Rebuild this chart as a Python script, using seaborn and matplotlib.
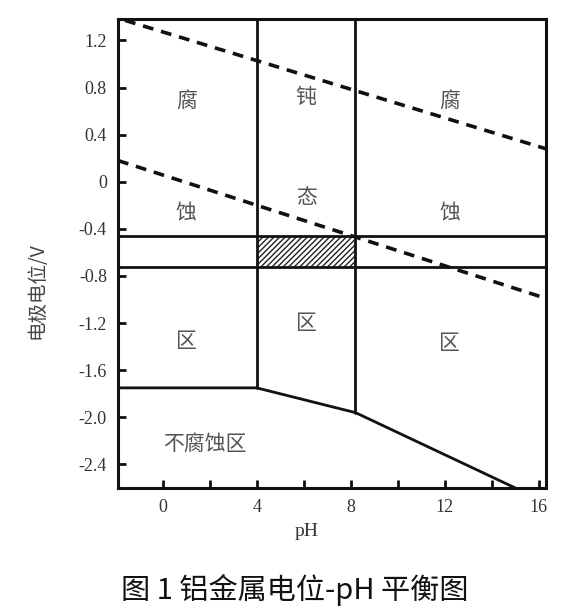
import numpy as np
import pandas as pd
import matplotlib
matplotlib.use("Agg")
import matplotlib.pyplot as plt
import seaborn as sns

# 边界线 (pH, E/V)
ph_v1 = [4.0, 4.0]
e_v1 = [-1.75, 1.38]
ph_v2 = [8.2, 8.2]
e_v2 = [-1.96, 1.38]
ph_h1 = [-1.9, 16.3]
e_h1 = [-0.46, -0.46]
ph_h2 = [-1.9, 16.3]
e_h2 = [-0.72, -0.72]
ph_low = [-1.9, 4.0, 8.2, 15.0]
e_low = [-1.75, -1.75, -1.96, -2.6]
# 虚线 (氧线 / 氢线)
ph_o2 = [-1.6, 16.3]
e_o2 = [1.37, 0.28]
ph_h2line = [-1.9, 16.3]
e_h2line = [0.18, -0.99]
# 阴影区
ph_hatch = [4.0, 8.2]
e_hatch_lo = -0.72
e_hatch_hi = -0.46

labels = ["腐", "蚀", "钝", "态", "腐", "蚀", "区", "区", "区", "不腐蚀区"]
label_ph = [1.0, 1.0, 6.1, 6.1, 12.2, 12.2, 1.0, 6.1, 12.2, 1.8]
label_e = [0.69, -0.27, 0.72, -0.13, 0.69, -0.27, -1.35, -1.2, -1.37, -2.22]

xticks_major = [0, 4, 8, 12, 16]
xticks_minor = [2, 6, 10, 14]
yticks = [1.2, 0.8, 0.4, 0, -0.4, -0.8, -1.2, -1.6, -2.0, -2.4]
ytick_labels = ["1.2", "0.8", "0.4", "0", "-0.4", "-0.8", "-1.2", "-1.6", "-2.0", "-2.4"]

sns.set_style("ticks")
plt.rcParams['font.family'] = ['Noto Sans CJK SC', 'DejaVu Sans']

fig = plt.figure(figsize=(5.83, 6.16), dpi=100)
ax = fig.add_axes([0.2024, 0.2078, 0.734, 0.761])

solid = dict(color='#111111', linewidth=2.0, ax=ax, legend=False)
for xs, ys in [(ph_v1, e_v1), (ph_v2, e_v2), (ph_h1, e_h1), (ph_h2, e_h2), (ph_low, e_low)]:
    sns.lineplot(x=xs, y=ys, sort=False, estimator=None, **solid)

for xs, ys in [(ph_o2, e_o2), (ph_h2line, e_h2line)]:
    sns.lineplot(x=xs, y=ys, sort=False, estimator=None, color='#111111',
                 linewidth=2.6, ax=ax, legend=False)
    ax.lines[-1].set_linestyle((0, (3, 2.2)))

ax.fill_between(ph_hatch, e_hatch_lo, e_hatch_hi, facecolor='white',
                edgecolor='#222222', hatch='//////', linewidth=0)

for t, x, y in zip(labels, label_ph, label_e):
    ax.text(x, y, t, ha='center', va='center', fontsize=15, color='#555555')

ax.set_xlim(-1.9, 16.3)
ax.set_ylim(-2.6, 1.38)
ax.set_xticks(xticks_major)
ax.set_xticks(xticks_minor, minor=True)
ax.set_xticklabels([str(v) for v in xticks_major], family='Liberation Serif', fontsize=13, color='#333333')
ax.set_yticks(yticks)
ax.set_yticklabels(ytick_labels, family='Liberation Serif', fontsize=13, color='#333333')
ax.tick_params(which='both', direction='in', length=6, width=2, color='#111111', pad=8)

for s in ax.spines.values():
    s.set_linewidth(2.2)
    s.set_color('#111111')

ax.set_xlabel("pH", family='Liberation Serif', fontsize=14, color='#333333')
ax.xaxis.set_label_coords(0.44, -0.075)
ax.set_ylabel("电极电位/V", fontsize=14, color='#444444')
ax.yaxis.set_label_coords(-0.165, 0.42)

fig.text(0.505, 0.042, "图 1 铝金属电位-pH 平衡图", ha='center', va='center',
         fontsize=21, color='#111111')

fig.savefig("out.png", dpi=100, facecolor='white')
